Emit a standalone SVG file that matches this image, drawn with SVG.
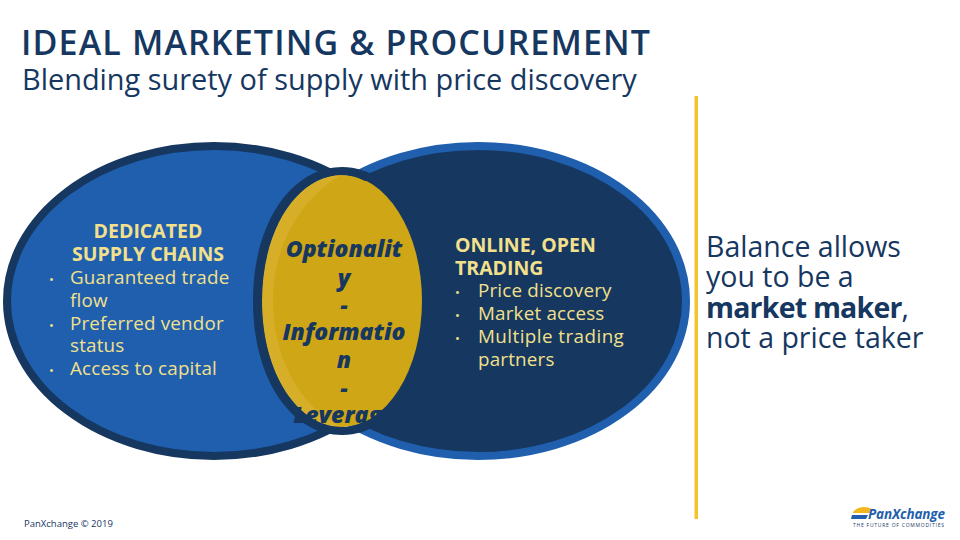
<svg xmlns="http://www.w3.org/2000/svg" width="960" height="540" viewBox="0 0 960 540">
<style>
text{font-family:"Open Sans","Noto Sans","Liberation Sans",sans-serif}
.y{fill:#f2e08c;font-size:18.8px;letter-spacing:.2px}
.h{font-size:19.5px;font-weight:700;letter-spacing:0}
.d{font-size:13px}
.c{text-anchor:middle}
.o{fill:#16375f;font-size:23px;font-weight:800;font-style:italic;text-anchor:middle}
.r{fill:#16375f;font-size:28.500px}
</style>
<rect width="960" height="540" fill="#fff"/>
<g id="right-circle"><ellipse cx="478" cy="301" rx="208" ry="155" fill="#16375f" stroke="#1f5fae" stroke-width="8"/></g>
<g id="left-circle"><ellipse cx="214" cy="301" rx="207" ry="155" fill="#1f5fae" stroke="#16375f" stroke-width="8"/>
<text class="y h c" x="148" y="238">DEDICATED</text><text class="y h c" x="148" y="261">SUPPLY CHAINS</text>
<text class="y d" x="49" y="284">•</text><text class="y" x="70" y="284">Guaranteed trade</text><text class="y" x="70" y="307">flow</text>
<text class="y d" x="49" y="330">•</text><text class="y" x="70" y="330">Preferred vendor</text><text class="y" x="70" y="352">status</text>
<text class="y d" x="49" y="375">•</text><text class="y" x="70" y="375">Access to capital</text></g>
<g id="right-text">
<text class="y h" x="455" y="252">ONLINE, OPEN</text><text class="y h" x="455" y="275">TRADING</text>
<text class="y d" x="455" y="297">•</text><text class="y" x="478" y="297">Price discovery</text>
<text class="y d" x="455" y="320">•</text><text class="y" x="478" y="320">Market access</text>
<text class="y d" x="455" y="343">•</text><text class="y" x="478" y="343" textLength="146">Multiple trading</text><text class="y" x="478" y="366">partners</text></g>
<g id="overlap"><ellipse cx="342" cy="301" rx="80" ry="126" fill="#cfa615"/>
<path d="M262 301C262 228 298 175 342 175C312 190 273 235 273 301C273 365 307 412 342 427C298 427 262 374 262 301Z" fill="#d7ae27"/>
<path d="M253 301C253 222 292 167 342 167C356 167 368 171 378 178L365 181C358 177 350 175 342 175C298 175 262 228 262 301C262 374 298 427 342 427C350 427 358 425 365 421L378 424C368 431 356 435 342 435C292 435 253 380 253 301Z" fill="#16375f"/>
<text class="o" x="344" y="257">Optionalit</text><text class="o" x="344" y="286">y</text><text class="o" x="344" y="313">-</text><text class="o" x="344" y="340">Informatio</text><text class="o" x="344" y="368">n</text><text class="o" x="344" y="396">-</text>
<clipPath id="lev"><rect x="280" y="395" width="104" height="35"/></clipPath>
<text class="o" x="344" y="423" clip-path="url(#lev)">Leverage</text></g>
<g id="title"><text x="21" y="54.500" fill="#16375f" font-size="34" font-weight="600" textLength="629">IDEAL MARKETING &amp; PROCUREMENT</text>
<text x="22" y="90" fill="#16375f" font-size="28.900">Blending surety of supply with price discovery</text></g>
<rect id="divider" x="694.500" y="96" width="3.500" height="423" fill="#f2c42e"/>
<g id="callout"><text class="r" x="706" y="257">Balance allows</text><text class="r" x="706" y="287">you to be a</text><text class="r" x="706" y="318" font-weight="700" textLength="203">market maker<tspan font-weight="400">,</tspan></text><text class="r" x="706" y="348">not a price taker</text></g>
<text x="24" y="527" fill="#16375f" font-size="9.500">PanXchange © 2019</text>
<g id="logo"><path d="M853 512C858 506 866 506 872 509L870 513H853Z" fill="#f2b71f"/><path d="M852 515H868L866 519H851Z" fill="#1f5fae"/>
<text x="868" y="518.500" fill="#1f5fae" font-size="13.500" font-weight="700" font-style="italic" textLength="77">PanXchange</text>
<text x="853" y="526.500" fill="#16375f" font-size="5" textLength="91">THE FUTURE OF COMMODITIES</text></g>
</svg>
